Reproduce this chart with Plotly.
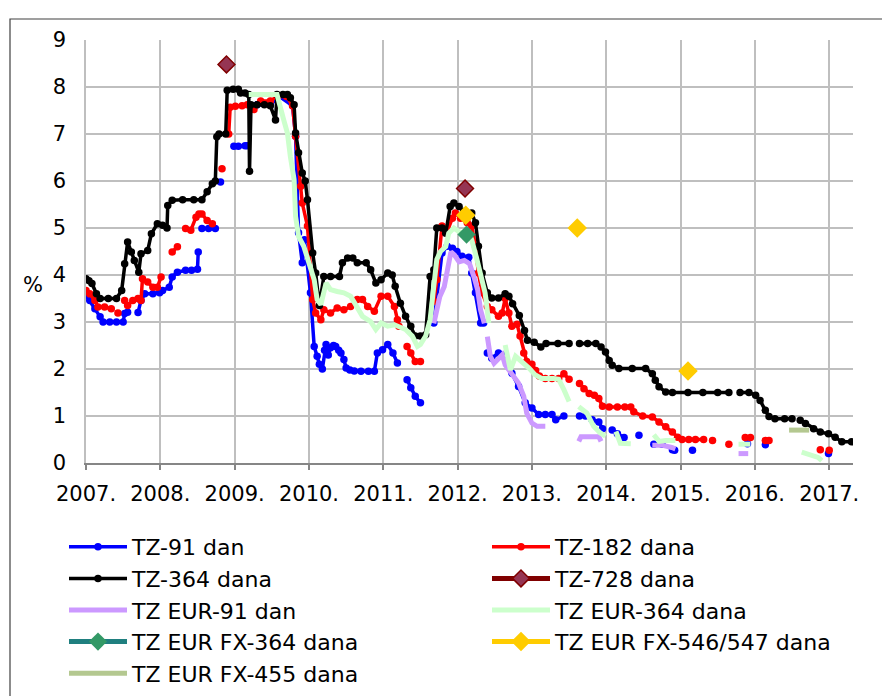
import plotly.graph_objects as go

# ---------------- data (decimal year, %) ; None = gap ----------------
years = list(range(2007, 2018))
year_labels = [f"{y}." for y in years]
y_ticks = list(range(0, 10))

tz91 = [(2007.00, 3.57), (2007.05, 3.46), (2007.12, 3.28), (2007.19, 3.11), (2007.23, 3.00),
        (2007.32, 3.00), (2007.41, 3.00), (2007.50, 3.00), (2007.52, 3.18), (2007.56, 3.21), None,
        (2007.70, 3.20), (2007.74, 3.46), (2007.79, 3.60), (2007.90, 3.60), (2007.99, 3.62),
        (2008.03, 3.67), (2008.12, 3.74), (2008.16, 3.96), (2008.23, 4.06), (2008.34, 4.10),
        (2008.42, 4.10), (2008.50, 4.12), (2008.51, 4.49), None,
        (2008.56, 4.99), (2008.65, 4.99), (2008.74, 4.99), None, (2008.81, 5.98), None,
        (2008.99, 6.74), (2009.05, 6.74), (2009.14, 6.75), (2009.17, 6.75), None,
        (2009.30, 7.62), (2009.48, 7.62), (2009.60, 7.80), (2009.78, 7.60), (2009.82, 6.95),
        (2009.86, 4.90), (2009.91, 4.26), (2009.94, 4.75), (2010.02, 3.62), (2010.07, 2.48),
        (2010.11, 2.27), (2010.14, 2.10), (2010.18, 2.00), (2010.21, 2.40), (2010.23, 2.52),
        (2010.26, 2.30), (2010.29, 2.45), (2010.33, 2.50), (2010.36, 2.48), (2010.40, 2.40),
        (2010.43, 2.34), (2010.47, 2.20), (2010.50, 2.02), (2010.55, 1.98), (2010.61, 1.96),
        (2010.70, 1.95), (2010.80, 1.95), (2010.88, 1.95), (2010.92, 2.34), (2010.99, 2.41),
        (2011.06, 2.52), (2011.13, 2.34), (2011.19, 2.13), None,
        (2011.32, 1.77), (2011.37, 1.60), (2011.43, 1.42), (2011.50, 1.28), None,
        (2011.68, 2.98), (2011.79, 4.47), (2011.86, 4.61), (2011.93, 4.57), (2011.99, 4.50),
        (2012.06, 4.40), (2012.15, 4.38), (2012.19, 4.04), (2012.24, 3.62), (2012.31, 2.98),
        (2012.35, 2.98), None,
        (2012.40, 2.34), (2012.46, 2.23), (2012.55, 2.34), (2012.64, 2.30), (2012.73, 1.91),
        (2012.82, 1.63), (2012.91, 1.28), (2013.00, 1.17), (2013.09, 1.03), (2013.18, 1.03),
        (2013.27, 1.03), (2013.32, 0.92), (2013.43, 1.00), None,
        (2013.64, 1.00), (2013.72, 1.00), (2013.81, 0.92), (2013.90, 0.87), (2013.95, 0.73), None,
        (2014.08, 0.70), (2014.15, 0.62), (2014.24, 0.54), None, (2014.44, 0.59), None,
        (2014.64, 0.40), (2014.75, 0.40), None, (2014.89, 0.28), (2014.92, 0.27), None,
        (2015.16, 0.27), None, (2015.90, 0.41), None, (2016.14, 0.39), None, (2016.99, 0.20)]

tz182 = [(2007.00, 3.67), (2007.05, 3.60), (2007.12, 3.46), (2007.16, 3.32), (2007.25, 3.32),
         (2007.34, 3.28), None, (2007.43, 3.19), None,
         (2007.52, 3.46), (2007.56, 3.35), (2007.63, 3.46), (2007.70, 3.50), (2007.74, 3.46),
         (2007.76, 3.92), (2007.83, 3.85), (2007.90, 3.74), (2007.96, 3.74), (2008.01, 3.96), None,
         (2008.16, 4.49), (2008.23, 4.60), None,
         (2008.34, 4.99), (2008.41, 4.95), (2008.48, 5.23), (2008.52, 5.30), (2008.56, 5.30),
         (2008.63, 5.16), (2008.70, 5.09), None, (2008.83, 6.26), None,
         (2008.92, 7.00), (2008.94, 7.57), (2009.01, 7.59), (2009.10, 7.60), (2009.17, 7.62),
         (2009.26, 7.52), (2009.35, 7.70), (2009.48, 7.70), (2009.57, 7.80), (2009.70, 7.80),
         (2009.78, 7.60), (2009.82, 6.95), (2009.89, 5.89), (2009.91, 5.53), (2009.98, 5.04),
         (2010.05, 3.48), (2010.09, 3.19), (2010.16, 3.05), (2010.20, 3.26), (2010.29, 3.19),
         (2010.38, 3.30), (2010.47, 3.26), (2010.56, 3.33), (2010.65, 3.48), (2010.72, 3.48),
         (2010.79, 3.33), (2010.88, 3.23), (2010.97, 3.55), (2011.06, 3.55), (2011.15, 3.33),
         (2011.19, 3.05), (2011.21, 2.91), None,
         (2011.32, 2.48), (2011.37, 2.34), (2011.43, 2.16), (2011.50, 2.16), None,
         (2011.68, 3.44), (2011.72, 3.90), (2011.79, 5.04), (2011.86, 4.93), (2011.93, 5.21),
         (2011.97, 5.32), (2012.04, 5.21), (2012.13, 5.11), (2012.19, 5.04), (2012.24, 4.61),
         (2012.28, 4.04), (2012.33, 3.62), (2012.40, 3.33), (2012.46, 3.26), (2012.55, 3.12),
         (2012.60, 3.19), (2012.64, 3.50), (2012.69, 3.19), (2012.73, 2.91), (2012.80, 2.95),
         (2012.84, 2.70), (2012.89, 2.34), (2012.93, 2.16), (2013.00, 2.10), (2013.05, 1.97),
         (2013.10, 1.85), (2013.18, 1.80), (2013.27, 1.80), (2013.36, 1.80), (2013.43, 1.90),
         (2013.50, 1.78), None,
         (2013.64, 1.69), (2013.70, 1.58), (2013.77, 1.48), (2013.84, 1.44), (2013.90, 1.37),
         (2013.95, 1.21), (2014.04, 1.19), (2014.15, 1.19), (2014.25, 1.19), (2014.33, 1.19),
         (2014.37, 1.09), (2014.49, 1.00), (2014.62, 0.98), (2014.71, 0.87), (2014.80, 0.77),
         (2014.89, 0.66), (2014.96, 0.55), (2015.02, 0.50), (2015.11, 0.50), (2015.20, 0.50),
         (2015.31, 0.50), None, (2015.43, 0.48), None, (2015.65, 0.40), None,
         (2015.87, 0.54), (2015.94, 0.54), None, (2016.14, 0.48), (2016.19, 0.48), None,
         (2016.88, 0.28), None, (2017.00, 0.27)]

tz364 = [(2007.00, 3.92), (2007.04, 3.88), (2007.08, 3.82), (2007.14, 3.60), (2007.19, 3.50),
         (2007.30, 3.50), (2007.41, 3.50), (2007.48, 3.67), (2007.52, 4.24), (2007.56, 4.70),
         (2007.61, 4.49), (2007.65, 4.31), (2007.71, 4.06), (2007.74, 4.45), (2007.83, 4.52),
         (2007.88, 4.88), (2007.96, 5.09), (2008.03, 5.06), (2008.09, 5.00), (2008.10, 5.48),
         (2008.16, 5.59), (2008.30, 5.60), (2008.45, 5.60), (2008.56, 5.60), (2008.63, 5.77),
         (2008.70, 5.94), (2008.74, 6.00), (2008.76, 6.94), (2008.79, 7.00), (2008.88, 7.00),
         (2008.90, 7.93), (2008.98, 7.95), (2009.05, 7.95), (2009.08, 7.87), (2009.14, 7.87),
         (2009.19, 7.84), (2009.20, 6.21), (2009.22, 7.62), (2009.30, 7.62), (2009.40, 7.62),
         (2009.48, 7.60), (2009.55, 7.30), (2009.57, 7.84), (2009.65, 7.84), (2009.71, 7.84),
         (2009.75, 7.77), (2009.80, 7.62), (2009.82, 7.02), (2009.86, 6.60), (2009.91, 6.17),
         (2009.95, 6.00), (2009.98, 5.60), (2010.05, 4.47), (2010.09, 4.04), (2010.14, 3.35),
         (2010.20, 3.97), (2010.29, 3.97), (2010.41, 3.97), (2010.45, 4.26), (2010.52, 4.36),
         (2010.59, 4.36), (2010.65, 4.26), (2010.77, 4.26), (2010.83, 4.11), (2010.90, 3.83),
         (2010.97, 3.90), (2011.06, 4.04), (2011.12, 4.00), (2011.16, 3.76), (2011.23, 3.40),
         (2011.30, 3.12), (2011.37, 2.91), (2011.43, 2.70), (2011.50, 2.70), (2011.57, 2.73),
         (2011.63, 3.97), (2011.68, 4.11), (2011.72, 5.00), (2011.79, 5.00), (2011.84, 4.89),
         (2011.90, 5.46), (2011.95, 5.53), (2012.02, 5.46), (2012.08, 5.35), (2012.19, 5.32),
         (2012.24, 5.11), (2012.28, 4.61), (2012.33, 4.04), (2012.40, 3.62), (2012.46, 3.51),
         (2012.55, 3.51), (2012.64, 3.60), (2012.69, 3.55), (2012.74, 3.39), (2012.83, 3.14),
         (2012.90, 2.82), (2012.94, 2.61), (2013.03, 2.57), (2013.12, 2.47), (2013.19, 2.54),
         (2013.35, 2.54), (2013.50, 2.54), None,
         (2013.64, 2.54), (2013.75, 2.54), (2013.86, 2.54), (2013.93, 2.47), (2013.99, 2.36),
         (2014.04, 2.18), (2014.08, 2.08), (2014.17, 2.01), (2014.35, 2.01), (2014.53, 2.01),
         (2014.62, 1.90), (2014.66, 1.76), (2014.71, 1.62), (2014.80, 1.51), (2014.89, 1.50),
         (2015.10, 1.50), (2015.30, 1.50), (2015.50, 1.50), (2015.65, 1.50), None,
         (2015.80, 1.50), (2015.92, 1.50), (2016.01, 1.44), (2016.07, 1.33), (2016.14, 1.12),
         (2016.19, 0.99), (2016.27, 0.94), (2016.40, 0.94), (2016.50, 0.94), None,
         (2016.61, 0.91), (2016.68, 0.84), (2016.79, 0.73), (2016.88, 0.66), (2016.99, 0.62),
         (2017.08, 0.55), (2017.17, 0.45), (2017.30, 0.45)]

tz728 = [(2008.89, 8.48), None, (2012.10, 5.84)]

eur91 = [(2011.68, 2.97), (2011.76, 3.54), (2011.82, 3.75), (2011.87, 4.17), (2011.91, 4.49),
         (2011.96, 4.42), (2012.02, 4.28), (2012.09, 4.31), (2012.16, 4.24), (2012.22, 3.96),
         (2012.27, 3.68), (2012.31, 3.25), (2012.36, 2.97), None,
         (2012.40, 2.69), (2012.44, 2.27), (2012.49, 2.12), (2012.55, 2.20), (2012.60, 2.30),
         (2012.64, 2.09), (2012.73, 1.91), (2012.82, 1.70), (2012.89, 1.42), (2012.93, 1.06),
         (2013.00, 0.85), (2013.07, 0.78), (2013.18, 0.78), None,
         (2013.63, 0.46), (2013.66, 0.56), (2013.80, 0.56), (2013.90, 0.56), (2013.93, 0.46), None,
         (2014.62, 0.38), (2014.75, 0.38), (2014.88, 0.33), (2014.93, 0.30), None,
         (2015.78, 0.20), (2015.91, 0.20)]

eur364 = [(2009.19, 7.84), (2009.35, 7.84), (2009.57, 7.84), (2009.66, 7.30), (2009.71, 7.02),
          (2009.75, 6.52), (2009.80, 6.03), (2009.82, 5.25), (2009.86, 4.82), (2009.93, 4.61),
          (2010.00, 4.26), (2010.07, 3.90), (2010.11, 3.48), (2010.16, 3.37), (2010.23, 3.83),
          (2010.29, 3.69), (2010.38, 3.65), (2010.47, 3.62), (2010.56, 3.55), (2010.65, 3.33),
          (2010.72, 3.12), (2010.83, 3.01), (2010.90, 2.84), (2010.97, 2.98), (2011.06, 2.91),
          (2011.15, 2.94), (2011.21, 2.91), (2011.30, 2.84), (2011.39, 2.70), (2011.46, 2.48),
          (2011.50, 2.52), (2011.57, 2.70), (2011.63, 3.05), (2011.68, 3.69), (2011.72, 4.33),
          (2011.77, 4.50), (2011.84, 4.60), (2011.88, 4.89), (2011.95, 5.00), (2012.02, 4.92),
          (2012.08, 4.88), (2012.15, 4.90), (2012.19, 4.75), (2012.26, 4.33), (2012.33, 3.90),
          (2012.37, 3.62), (2012.42, 2.98), None,
          (2012.64, 2.51), (2012.71, 1.98), (2012.78, 2.27), (2012.87, 2.16), (2012.96, 2.02),
          (2013.04, 1.88), (2013.13, 1.80), (2013.29, 1.80), (2013.36, 1.78), (2013.43, 1.56),
          (2013.50, 1.31), None,
          (2013.63, 1.20), (2013.74, 1.06), (2013.83, 0.78), (2013.92, 0.64), (2013.99, 0.57), None,
          (2014.13, 0.67), (2014.19, 0.42), (2014.33, 0.41), None,
          (2014.64, 0.60), (2014.71, 0.46), (2014.80, 0.48), (2014.93, 0.48), None,
          (2015.78, 0.40), (2015.94, 0.40), None,
          (2016.63, 0.23), (2016.75, 0.18), (2016.85, 0.12), (2016.90, 0.05)]

fx364 = [(2012.12, 4.86)]
fx546 = [(2012.11, 5.27), None, (2013.61, 5.00), None, (2015.10, 1.96)]
fx455 = [(2016.46, 0.70), (2016.73, 0.70)]

names = ["TZ-91 dan", "TZ-182 dana", "TZ-364 dana", "TZ-728 dana", "TZ EUR-91 dan",
         "TZ EUR-364 dana", "TZ EUR FX-364 dana", "TZ EUR FX-546/547 dana", "TZ EUR FX-455 dana"]


def split(pairs):
    xs, ys = [], []
    for p in pairs:
        if p is None:
            xs.append(None)
            ys.append(None)
        else:
            xs.append(p[0])
            ys.append(p[1])
    return xs, ys


FONT = "DejaVu Sans"
fig = go.Figure()

styles = [
    (tz91, "legend", "#0000ff", 3.5, "lines+markers", dict(size=7.5, color="#0000ff")),
    (tz182, "legend2", "#ff0000", 3.5, "lines+markers", dict(size=7.5, color="#ff0000")),
    (tz364, "legend", "#000000", 3.5, "lines+markers", dict(size=7.5, color="#000000")),
    (tz728, "legend2", "#800000", 5, "lines+markers",
     dict(size=13, symbol="diamond", color="#953553", line=dict(color="#800000", width=1.5))),
    (eur91, "legend", "#cc99ff", 5, "lines", None),
    (eur364, "legend2", "#ccffcc", 5, "lines", None),
    (fx364, "legend", "#1f7f7f", 5, "lines+markers",
     dict(size=14, symbol="diamond", color="#339966")),
    (fx546, "legend2", "#ffcc00", 5, "lines+markers",
     dict(size=15, symbol="diamond", color="#ffcc00")),
    (fx455, "legend", "#b4c890", 5, "lines", None),
]

for i, (data, leg, col, w, mode, mk) in enumerate(styles):
    xs, ys = split(data)
    kw = dict(x=xs, y=ys, name=names[i], mode=mode, legend=leg, legendgroup=f"g{i}",
              line=dict(color=col, width=w), connectgaps=False, hoverinfo="skip")
    if mk:
        kw["marker"] = mk
    fig.add_trace(go.Scatter(**kw))

# page has an 8px body margin: figure pixel = page pixel - OFF
OFF = 8
W, H = 890 - OFF, 696 - OFF
PL, PR, PT, PB = 86, 853, 40, 463          # plot area in page pixels
L, R, T, B = PL - OFF, W - (PR - OFF), PT - OFF, H - (PB - OFF)
pw, ph = W - L - R, H - T - B


def px_x(p):
    return (p - OFF - L) / pw


def px_y(p):
    return (H - B - (p - OFF)) / ph


leg_common = dict(orientation="v", yanchor="top", xanchor="left",
                  font=dict(family=FONT, size=22, color="#000"),
                  itemwidth=58, tracegroupgap=4, bgcolor="rgba(0,0,0,0)", traceorder="normal",
                  itemclick=False, itemdoubleclick=False)

fig.update_layout(
    width=W, height=H,
    margin=dict(l=L, r=R, t=T, b=B, autoexpand=False),
    paper_bgcolor="white", plot_bgcolor="white",
    font=dict(family=FONT, size=21, color="#000"),
    showlegend=True,
    legend=dict(x=px_x(64), y=px_y(526), **leg_common),
    legend2=dict(x=px_x(487), y=px_y(526), **leg_common),
    xaxis=dict(range=[2007, 2017.32], tickmode="array", tickvals=years, ticktext=year_labels,
               showgrid=True, gridcolor="#bfbfbf", gridwidth=1.5, zeroline=False,
               showline=True, linecolor="#868686", linewidth=2, ticks="outside", ticklen=5,
               tickcolor="#868686", tickwidth=1.5, tickfont=dict(family=FONT, size=21, color="#000"),
               ticklabelstandoff=6, automargin=False, fixedrange=True),
    yaxis=dict(range=[0, 9], tickmode="array", tickvals=y_ticks, showgrid=True, gridcolor="#bfbfbf",
               gridwidth=1.5, zeroline=False, showline=True, linecolor="#bfbfbf", linewidth=1.5,
               ticks="", tickfont=dict(family=FONT, size=21, color="#000"),
               ticklabelstandoff=14, automargin=False, fixedrange=True),
    annotations=[dict(text="%", x=px_x(33), y=px_y(285), xref="paper", yref="paper",
                      xanchor="center", yanchor="middle",
                      showarrow=False, font=dict(family=FONT, size=21, color="#000"))],
    shapes=[dict(type="rect", xref="paper", yref="paper", x0=px_x(10), x1=px_x(885),
                 y0=px_y(720), y1=px_y(19), line=dict(color="#404040", width=1.2), layer="below")],
)

fig.write_html("out.html")
